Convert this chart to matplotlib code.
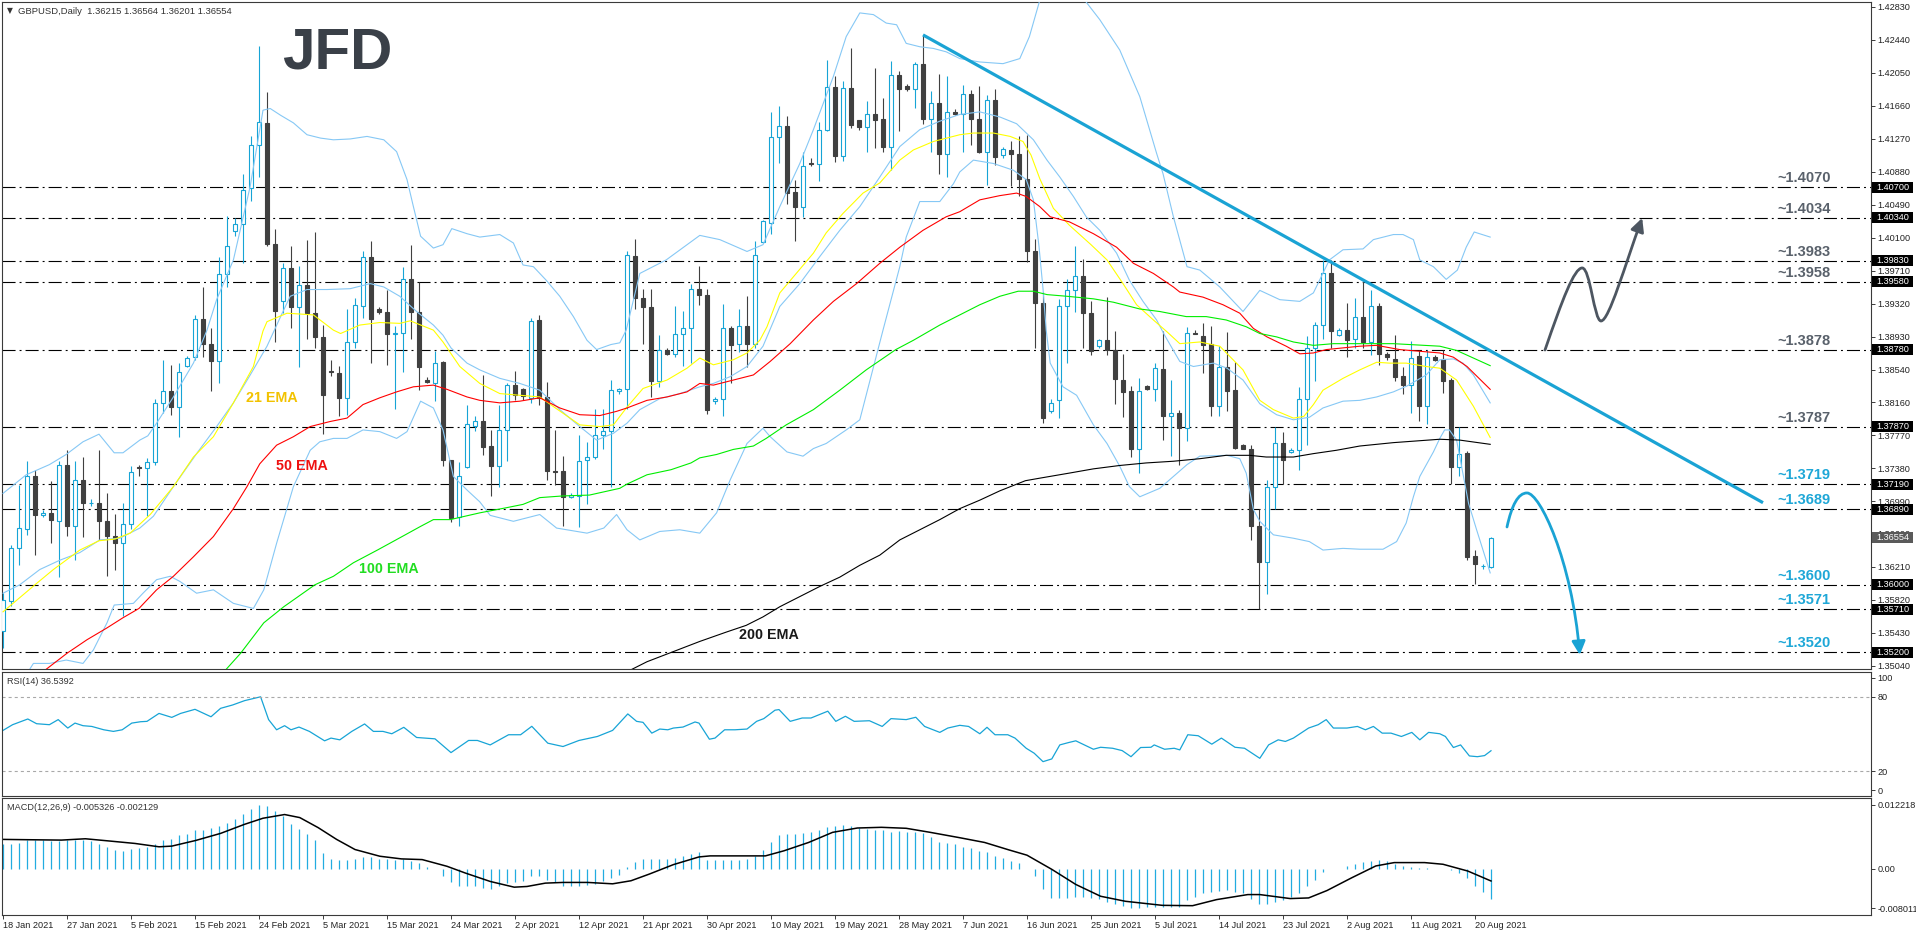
import numpy as np
import matplotlib
matplotlib.use("Agg")
import matplotlib.pyplot as plt
from matplotlib.patches import Rectangle, FancyArrowPatch
from matplotlib.path import Path
import matplotlib.transforms as mtransforms

plt.rcParams['lines.scale_dashes'] = False
plt.rcParams['font.family'] = ['Liberation Sans', 'DejaVu Sans']

# ---------------- data (GBPUSD daily, bar 0 = 18 Jan 2021, incl. Sunday bars) ----------------
opens = [1.3545, 1.3581, 1.3643, 1.3666, 1.3729, 1.3682, 1.3685, 1.3675, 1.3742, 1.3670,
         1.3724, 1.3697, 1.3697, 1.3675, 1.3658, 1.3649, 1.3672, 1.3739, 1.3738, 1.3745,
         1.3815, 1.3829, 1.3810, 1.3859, 1.3869, 1.3914, 1.3885, 1.3865, 1.3967, 1.4018,
         1.4027, 1.4069, 1.4120, 1.4146, 1.4003, 1.3935, 1.3974, 1.3928, 1.3954, 1.3921,
         1.3893, 1.3853, 1.3850, 1.3821, 1.3887, 1.3930, 1.3987, 1.3926, 1.3922, 1.3896,
         1.3898, 1.3962, 1.3923, 1.3842, 1.3838, 1.3863, 1.3748, 1.3680, 1.3739, 1.3788,
         1.3794, 1.3764, 1.3740, 1.3783, 1.3836, 1.3831, 1.3821, 1.3913, 1.3822, 1.3735,
         1.3734, 1.3704, 1.3705, 1.3747, 1.3751, 1.3777, 1.3782, 1.3829, 1.3831, 1.3989,
         1.3939, 1.3928, 1.3841, 1.3877, 1.3873, 1.3896, 1.3903, 1.3950, 1.3943, 1.3817,
         1.3819, 1.3903, 1.3885, 1.3906, 1.3885, 1.4005, 1.4028, 1.4129, 1.4142, 1.4064,
         1.4046, 1.4099, 1.4097, 1.4138, 1.4188, 1.4107, 1.4187, 1.4149, 1.4141, 1.4157,
         1.4150, 1.4117, 1.4203, 1.4190, 1.4186, 1.4216, 1.4150, 1.4170, 1.4109, 1.4159,
         1.4157, 1.4180, 1.4150, 1.4111, 1.4173, 1.4108, 1.4114, 1.4109, 1.4080, 1.3994,
         1.3933, 1.3805, 1.3818, 1.3930, 1.3949, 1.3965, 1.3921, 1.3882, 1.3889, 1.3878,
         1.3842, 1.3829, 1.3760, 1.3835, 1.3831, 1.3855, 1.3800, 1.3803, 1.3785, 1.3898,
         1.3894, 1.3885, 1.3811, 1.3858, 1.3830, 1.3765, 1.3761, 1.3669, 1.3627, 1.3715,
         1.3768, 1.3757, 1.3759, 1.3819, 1.3880, 1.3907, 1.3968, 1.3895, 1.3901, 1.3890,
         1.3916, 1.3887, 1.3930, 1.3873, 1.3867, 1.3847, 1.3836, 1.3870, 1.3811, 1.3869,
         1.3867, 1.3842, 1.3739, 1.3756, 1.3634, 1.3622, 1.36215]
highs = [1.3590, 1.3647, 1.3718, 1.3746, 1.3736, 1.3688, 1.3723, 1.3746, 1.3759, 1.3746,
         1.3751, 1.3701, 1.3759, 1.3709, 1.3684, 1.3697, 1.3740, 1.3741, 1.3750, 1.3820,
         1.3866, 1.3860, 1.3862, 1.3870, 1.3919, 1.3952, 1.3903, 1.3987, 1.4036, 1.4033,
         1.4086, 1.4131, 1.4237, 1.4183, 1.4021, 1.3980, 1.4000, 1.3977, 1.4007, 1.4017,
         1.3907, 1.3866, 1.3859, 1.3926, 1.3939, 1.3995, 1.4006, 1.3928, 1.3949, 1.3906,
         1.3976, 1.4002, 1.3958, 1.3846, 1.3876, 1.3865, 1.3748, 1.3745, 1.3813, 1.3799,
         1.3848, 1.3783, 1.3813, 1.3838, 1.3853, 1.3832, 1.3915, 1.3919, 1.3840, 1.3783,
         1.3752, 1.3708, 1.3777, 1.3769, 1.3808, 1.3808, 1.3842, 1.3832, 1.3994, 1.4009,
         1.3950, 1.3950, 1.3895, 1.3880, 1.3929, 1.3924, 1.3956, 1.3977, 1.3950, 1.3822,
         1.3932, 1.3906, 1.3926, 1.3941, 1.4006, 1.4031, 1.4159, 1.4166, 1.4154, 1.4078,
         1.4111, 1.4104, 1.4147, 1.4220, 1.4201, 1.4196, 1.4234, 1.4149, 1.4172, 1.4211,
         1.4176, 1.4219, 1.4207, 1.4192, 1.4218, 1.4250, 1.4184, 1.4204, 1.4201, 1.4162,
         1.4191, 1.4185, 1.4190, 1.4179, 1.4186, 1.4118, 1.4125, 1.4130, 1.4132, 1.4009,
         1.3946, 1.3820, 1.3938, 1.3962, 1.4001, 1.3985, 1.3935, 1.3890, 1.3940, 1.3900,
         1.3873, 1.3835, 1.3844, 1.3836, 1.3862, 1.3900, 1.3842, 1.3806, 1.3905, 1.3901,
         1.3909, 1.3906, 1.3882, 1.3899, 1.3863, 1.3766, 1.3765, 1.3689, 1.3724, 1.3787,
         1.3780, 1.3762, 1.3834, 1.3894, 1.3911, 1.3984, 1.3984, 1.3903, 1.3933, 1.3939,
         1.3959, 1.3949, 1.3933, 1.3875, 1.3895, 1.3858, 1.3888, 1.3878, 1.3878, 1.3872,
         1.3878, 1.3844, 1.3786, 1.3758, 1.3641, 1.3625, 1.36564]
lows = [1.3525, 1.3575, 1.3623, 1.3659, 1.3635, 1.3680, 1.3649, 1.3609, 1.3658, 1.3629,
        1.3656, 1.3693, 1.3653, 1.3610, 1.3618, 1.3563, 1.3666, 1.3728, 1.3681, 1.3742,
        1.3803, 1.3801, 1.3775, 1.3857, 1.3866, 1.3869, 1.3829, 1.3839, 1.3952, 1.4012,
        1.3980, 1.4054, 1.4082, 1.4000, 1.3887, 1.3921, 1.3903, 1.3858, 1.3890, 1.3880,
        1.3778, 1.3847, 1.3800, 1.3801, 1.3880, 1.3915, 1.3862, 1.3920, 1.3860, 1.3808,
        1.3851, 1.3890, 1.3830, 1.3838, 1.3817, 1.3740, 1.3674, 1.3670, 1.3738, 1.3782,
        1.3753, 1.3705, 1.3716, 1.3746, 1.3818, 1.3818, 1.3815, 1.3812, 1.3724, 1.3718,
        1.3669, 1.3702, 1.3668, 1.3696, 1.3749, 1.3761, 1.3716, 1.3825, 1.3808, 1.3926,
        1.3885, 1.3822, 1.3834, 1.3872, 1.3869, 1.3859, 1.3862, 1.3931, 1.3802, 1.3814,
        1.3800, 1.3838, 1.3875, 1.3858, 1.3880, 1.4004, 1.4015, 1.4098, 1.4050, 1.4006,
        1.4035, 1.4095, 1.4077, 1.4136, 1.4100, 1.4101, 1.4140, 1.4137, 1.4111, 1.4116,
        1.4112, 1.4090, 1.4136, 1.4184, 1.4164, 1.4145, 1.4112, 1.4086, 1.4082, 1.4155,
        1.4112, 1.4120, 1.4110, 1.4072, 1.4096, 1.4105, 1.4071, 1.4060, 1.3982, 1.3880,
        1.3791, 1.3803, 1.3797, 1.3862, 1.3923, 1.3880, 1.3872, 1.3880, 1.3872, 1.3814,
        1.3798, 1.3751, 1.3732, 1.3830, 1.3817, 1.3771, 1.3752, 1.3741, 1.3770, 1.3896,
        1.3850, 1.3800, 1.3800, 1.3805, 1.3760, 1.3760, 1.3653, 1.3571, 1.3589, 1.3689,
        1.3719, 1.3756, 1.3736, 1.3765, 1.3841, 1.3890, 1.3880, 1.3894, 1.3869, 1.3880,
        1.3880, 1.3872, 1.3860, 1.3866, 1.3841, 1.3826, 1.3803, 1.3794, 1.3790, 1.3865,
        1.3827, 1.3719, 1.3729, 1.3629, 1.3601, 1.3619, 1.36201]
closes = [1.3582, 1.3643, 1.3667, 1.3729, 1.3683, 1.3685, 1.3676, 1.3742, 1.3670, 1.3724,
          1.3697, 1.3697, 1.3675, 1.3658, 1.3649, 1.3672, 1.3733, 1.3738, 1.3745, 1.3815,
          1.3829, 1.3810, 1.3852, 1.3868, 1.3914, 1.3885, 1.3865, 1.3967, 1.4001, 1.4027,
          1.4067, 1.4120, 1.4147, 1.4003, 1.3924, 1.3974, 1.3928, 1.3954, 1.3921, 1.3893,
          1.3824, 1.3851, 1.3821, 1.3887, 1.3931, 1.3987, 1.3914, 1.3922, 1.3896, 1.3898,
          1.3962, 1.3923, 1.3858, 1.3840, 1.3862, 1.3747, 1.3679, 1.3728, 1.3790, 1.3794,
          1.3763, 1.3740, 1.3783, 1.3836, 1.3824, 1.3823, 1.3912, 1.3821, 1.3734, 1.3733,
          1.3704, 1.3706, 1.3746, 1.3751, 1.3777, 1.3782, 1.3830, 1.3831, 1.3990, 1.3939,
          1.3928, 1.3841, 1.3878, 1.3873, 1.3896, 1.3903, 1.3950, 1.3942, 1.3806, 1.3819,
          1.3903, 1.3883, 1.3906, 1.3885, 1.3990, 1.4030, 1.4129, 1.4142, 1.4063, 1.4046,
          1.4095, 1.4097, 1.4138, 1.4188, 1.4107, 1.4187, 1.4144, 1.4141, 1.4156, 1.4149,
          1.4117, 1.4203, 1.4186, 1.4186, 1.4216, 1.4150, 1.4170, 1.4109, 1.4159, 1.4157,
          1.4180, 1.4150, 1.4111, 1.4173, 1.4106, 1.4115, 1.4109, 1.4080, 1.3994, 1.3933,
          1.3797, 1.3815, 1.3930, 1.3949, 1.3965, 1.3921, 1.3876, 1.3889, 1.3878, 1.3843,
          1.3828, 1.3760, 1.3829, 1.3831, 1.3856, 1.3800, 1.3803, 1.3785, 1.3898, 1.3897,
          1.3884, 1.3811, 1.3858, 1.3829, 1.3762, 1.3761, 1.3669, 1.3627, 1.3715, 1.3768,
          1.3747, 1.3759, 1.3819, 1.3880, 1.3907, 1.3968, 1.3900, 1.3901, 1.3889, 1.3916,
          1.3887, 1.3930, 1.3873, 1.3869, 1.3846, 1.3836, 1.3868, 1.3811, 1.3869, 1.3866,
          1.3841, 1.3739, 1.3755, 1.3633, 1.3624, 1.3622, 1.36554]

date_bars = list(range(0, 185, 8))
date_labels = ['18 Jan 2021', '27 Jan 2021', '5 Feb 2021', '15 Feb 2021', '24 Feb 2021',
               '5 Mar 2021', '15 Mar 2021', '24 Mar 2021', '2 Apr 2021', '12 Apr 2021',
               '21 Apr 2021', '30 Apr 2021', '10 May 2021', '19 May 2021', '28 May 2021',
               '7 Jun 2021', '16 Jun 2021', '25 Jun 2021', '5 Jul 2021', '14 Jul 2021',
               '23 Jul 2021', '2 Aug 2021', '11 Aug 2021', '20 Aug 2021']

price_ticks = [1.42830, 1.42440, 1.42050, 1.41660, 1.41270, 1.40880, 1.40490, 1.40100,
               1.39710, 1.39320, 1.38930, 1.38540, 1.38160, 1.37770, 1.37380, 1.36990,
               1.36600, 1.36210, 1.35820, 1.35430, 1.35040]

levels = [1.4070, 1.4034, 1.3983, 1.3958, 1.3878, 1.3787, 1.3719, 1.3689, 1.3600, 1.3571, 1.3520]
level_is_support = [False, False, False, False, False, False, True, True, True, True, True]
last_price = 1.36554

# indicator lines: (bar, value)
ema21 = [(0, 1.3568), (4, 1.3600), (6.3, 1.3618), (9.6, 1.3641), (12, 1.3652), (14, 1.3654),
         (15.9, 1.3661), (18.4, 1.3683), (21.3, 1.3716), (23.8, 1.3751), (26.3, 1.3775),
         (28.8, 1.3815), (31.3, 1.3858), (32.5, 1.3900), (33, 1.3911), (35.5, 1.3921),
         (38.8, 1.3919), (41.3, 1.3901), (42.2, 1.3897), (44.6, 1.3907), (47.1, 1.3910),
         (49.6, 1.3909), (50.9, 1.3912), (53.8, 1.3901), (55, 1.3887), (57.1, 1.3858),
         (59.6, 1.3838), (62.1, 1.3826), (64.6, 1.3824), (67.1, 1.3822), (69.2, 1.3808),
         (72.1, 1.3789), (74.6, 1.3787), (76.3, 1.3789), (78, 1.3810), (80, 1.3832),
         (83, 1.3842), (85.5, 1.3856), (87.1, 1.3868), (88.8, 1.3860), (91.3, 1.3866),
         (93, 1.3874), (94.6, 1.3889), (95.5, 1.3905), (97.1, 1.3945), (101.3, 1.3992),
         (102.9, 1.4016), (105, 1.4039), (107.5, 1.4063), (109.6, 1.4075), (112.1, 1.4102),
         (113.8, 1.4114), (116.3, 1.4124), (119.6, 1.4132), (121.3, 1.4134), (123.8, 1.4134),
         (125.9, 1.4130), (127.5, 1.4124), (128.5, 1.4108), (129.6, 1.4080), (131.3, 1.4045),
         (133.3, 1.4025), (136, 1.4002), (138, 1.3984), (140, 1.3956), (141.7, 1.3931),
         (143.8, 1.3913), (145.5, 1.3899), (147.1, 1.3885), (149.6, 1.3887), (152.1, 1.3882),
         (155, 1.3854), (157.1, 1.3818), (158.8, 1.3807), (161.3, 1.3797), (162.6, 1.3799),
         (163.8, 1.3813), (165, 1.3830), (167.5, 1.3844), (169.6, 1.3854), (171.7, 1.3863),
         (173.3, 1.3862), (175.4, 1.3862), (177.9, 1.3858), (179.6, 1.3856), (181.7, 1.3842),
         (183.8, 1.3811), (185.9, 1.3774)]
ema50 = [(5.25, 1.3499), (8, 1.3519), (10.5, 1.3535), (13, 1.3549), (15, 1.3561), (17, 1.3572),
         (19.2, 1.3594), (21.3, 1.3610), (23.8, 1.3633), (26.3, 1.3657), (28.8, 1.3690),
         (30.5, 1.3716), (32.1, 1.3743), (34.2, 1.3765), (36.3, 1.3775), (38.4, 1.3787),
         (40.9, 1.3793), (43, 1.3797), (45, 1.3813), (47.1, 1.3821), (49.2, 1.3828),
         (51.3, 1.3834), (53.8, 1.3836), (55.5, 1.3831), (58, 1.3822), (59.6, 1.3818),
         (62.1, 1.3815), (64.6, 1.3817), (67.1, 1.3821), (69.6, 1.3809), (72.1, 1.3801),
         (74.6, 1.3800), (76.7, 1.3805), (78, 1.3809), (80.5, 1.3818), (83, 1.3822),
         (85.5, 1.3828), (87.1, 1.3838), (88.8, 1.3836), (91.3, 1.3842), (93.8, 1.3848),
         (95.9, 1.3864), (98.4, 1.3885), (101.3, 1.3913), (103.8, 1.3935), (106.7, 1.3956),
         (109.6, 1.3980), (112.1, 1.3999), (115, 1.4019), (117.9, 1.4035), (119.6, 1.4041),
         (122.1, 1.4055), (124.6, 1.4060), (126.7, 1.4063), (127.9, 1.4059), (129.6, 1.4047),
         (130.9, 1.4035), (133.3, 1.4029), (136.3, 1.4015), (139.2, 1.3999), (141.3, 1.3980),
         (143.8, 1.3968), (146.3, 1.3952), (147.1, 1.3946), (150, 1.3940), (152.5, 1.3931),
         (154.6, 1.3921), (156.3, 1.3903), (158, 1.3893), (160.4, 1.3882), (162.1, 1.3873),
         (163.8, 1.3874), (165.4, 1.3878), (167.5, 1.3880), (169.6, 1.3882), (171.7, 1.3883),
         (174.6, 1.3878), (177.1, 1.3876), (179.6, 1.3874), (181.3, 1.3869), (183, 1.3858),
         (185.9, 1.3831)]
ema100 = [(27.8, 1.3499), (29.7, 1.3519), (32.6, 1.3555), (35.1, 1.3574), (39, 1.3600),
          (41.3, 1.3610), (43.8, 1.3626), (46.8, 1.3641), (49.7, 1.3656), (52.2, 1.3669),
          (53.8, 1.3677), (55.9, 1.3677), (59.6, 1.3685), (62.9, 1.3691), (65, 1.3695),
          (67.1, 1.3703), (70, 1.3705), (73.3, 1.3706), (77.1, 1.3714), (78, 1.3719),
          (80.5, 1.3730), (83.5, 1.3736), (86, 1.3744), (87.1, 1.3750), (89.2, 1.3754),
          (91.3, 1.3760), (93.8, 1.3764), (95.4, 1.3773), (97.9, 1.3789), (101.3, 1.3807),
          (104.6, 1.3830), (107.9, 1.3854), (111.6, 1.3878), (113.8, 1.3889), (117.1, 1.3907),
          (119.6, 1.3919), (122.1, 1.3931), (124.6, 1.3941), (126.9, 1.3947), (128.8, 1.3947),
          (130.5, 1.3943), (133, 1.3941), (136.3, 1.3938), (138.8, 1.3934), (142.1, 1.3926),
          (144.6, 1.3923), (147.9, 1.3917), (150.4, 1.3917), (152.9, 1.3913), (155.4, 1.3905),
          (157.1, 1.3897), (159.2, 1.3893), (161.3, 1.3887), (163.8, 1.3883), (166.3, 1.3885),
          (169.6, 1.3885), (173.8, 1.3885), (179.6, 1.3882), (181.7, 1.3877), (183.8, 1.3868),
          (185.9, 1.3859)]
ema200 = [(78.4, 1.3499), (80.5, 1.3509), (83.8, 1.3521), (87.1, 1.3533), (90.4, 1.3544),
          (92.9, 1.3552), (95, 1.3562), (97.1, 1.3574), (99.6, 1.3586), (102.1, 1.3598),
          (104.6, 1.3609), (107.1, 1.3623), (109.6, 1.3635), (112.1, 1.3653), (114.6, 1.3665),
          (117.1, 1.3677), (119.6, 1.3690), (122.1, 1.3700), (124.6, 1.3711), (127.8, 1.3723),
          (129.6, 1.3726), (133.3, 1.3732), (136.3, 1.3737), (139.6, 1.3741), (142.9, 1.3744),
          (146.3, 1.3746), (149.6, 1.3749), (152.9, 1.3753), (155.8, 1.3753), (157.9, 1.3751),
          (161.3, 1.3751), (163.8, 1.3755), (166.7, 1.3759), (169.6, 1.3764), (173.8, 1.3768),
          (179.6, 1.3772), (182.1, 1.3771), (185.9, 1.3766)]
bb_upper = [(0, 1.3708), (2.9, 1.3730), (5.8, 1.3742), (7.9, 1.3754), (10, 1.3769), (12, 1.3778),
            (13.9, 1.3756), (15, 1.3756), (17.1, 1.3771), (18.1, 1.3776), (19.2, 1.3791),
            (21.3, 1.3822), (23.8, 1.3862), (25.5, 1.3901), (26.7, 1.3937), (28.8, 1.3984),
            (30.9, 1.4071), (32.5, 1.4161), (33.4, 1.4163), (34.7, 1.4155), (36.3, 1.4146),
            (38, 1.4132), (39.7, 1.4128), (41.3, 1.4126), (43.4, 1.4127), (45.5, 1.4130),
            (47.6, 1.4126), (49.2, 1.4112), (50.5, 1.4079), (51.3, 1.4047), (52.2, 1.4012),
            (53.8, 1.3998), (55, 1.4002), (56.1, 1.4021), (58, 1.4015), (59.6, 1.4011),
            (62.1, 1.4014), (63.8, 1.4004), (65, 1.3978), (66.3, 1.3976), (67.9, 1.3960),
            (69.6, 1.3941), (71.3, 1.3917), (73, 1.3889), (74.2, 1.3878), (76, 1.3884),
            (77.1, 1.3886), (77.9, 1.3901), (79.6, 1.3968), (82.9, 1.3984), (87.1, 1.4013),
            (89.6, 1.4008), (93, 1.3994), (95, 1.4002), (97.1, 1.4047), (99.6, 1.4098),
            (101.3, 1.4138), (103.8, 1.4201), (105.4, 1.4248), (107.1, 1.4276), (108.8, 1.4274),
            (110.4, 1.4264), (111.7, 1.4262), (112.9, 1.4240), (114.6, 1.4236), (116.3, 1.4234),
            (117.9, 1.4230), (119.6, 1.4222), (122.1, 1.4218), (125, 1.4216), (127.1, 1.4222),
            (128.3, 1.4248), (129.6, 1.4291), (131, 1.4330), (132.5, 1.4345), (134, 1.4320),
            (135.3, 1.4290), (137.1, 1.4268), (139.6, 1.4232), (142.1, 1.4177), (144.2, 1.4110),
            (145, 1.4086), (146.3, 1.4035), (148, 1.3976), (149.6, 1.3972), (152.1, 1.3952),
            (155, 1.3923), (157.1, 1.3948), (159.6, 1.3937), (162.1, 1.3935), (163.8, 1.3945),
            (165.8, 1.3984), (167.5, 1.3996), (170, 1.3997), (171.3, 1.4008), (173.8, 1.4014),
            (175, 1.4014), (176.3, 1.4008), (177.1, 1.3984), (178.8, 1.3976), (180.4, 1.3961),
            (181.8, 1.3972), (182.9, 1.3999), (183.9, 1.4017), (185.9, 1.4011)]
bb_mid = [(0, 1.3590), (2.1, 1.3600), (4.6, 1.3618), (7.1, 1.3629), (9.6, 1.3638), (12.1, 1.3653),
          (14.6, 1.3655), (17.1, 1.3667), (18.8, 1.3681), (21.3, 1.3716), (24.2, 1.3755),
          (26.7, 1.3787), (28.8, 1.3815), (30.9, 1.3848), (33, 1.3882), (34.7, 1.3917),
          (35.9, 1.3941), (38, 1.3949), (40.5, 1.3949), (43.4, 1.3950), (45.9, 1.3956),
          (47.6, 1.3952), (49.6, 1.3941), (51.7, 1.3923), (53.8, 1.3907), (55, 1.3895),
          (56, 1.3880), (58, 1.3862), (59.6, 1.3854), (62.1, 1.3844), (64.6, 1.3838),
          (67.1, 1.3830), (69.6, 1.3807), (72.1, 1.3787), (74.2, 1.3771), (76.3, 1.3779),
          (78, 1.3791), (79.6, 1.3807), (82.1, 1.3820), (84.6, 1.3826), (87.1, 1.3834),
          (88.8, 1.3838), (90.9, 1.3846), (93, 1.3858), (95, 1.3882), (97.1, 1.3929),
          (99.6, 1.3956), (102.1, 1.3988), (104.6, 1.4019), (107.1, 1.4047), (109.6, 1.4082),
          (112.1, 1.4118), (114.6, 1.4138), (117.1, 1.4148), (119.6, 1.4156), (122.1, 1.4159),
          (124.6, 1.4153), (126.7, 1.4145), (128.8, 1.4126), (130.5, 1.4102), (132.1, 1.4082),
          (133.8, 1.4059), (135.4, 1.4035), (137.1, 1.4019), (139.2, 1.3992), (140.8, 1.3960),
          (142.5, 1.3935), (144.2, 1.3913), (145.2, 1.3895), (146.3, 1.3877), (147.1, 1.3864),
          (148.8, 1.3858), (151.3, 1.3862), (153, 1.3856), (155, 1.3842), (157.1, 1.3814),
          (159.2, 1.3801), (161.3, 1.3795), (163.3, 1.3798), (165, 1.3809), (167.5, 1.3817),
          (169.6, 1.3818), (171.7, 1.3822), (173.8, 1.3828), (175.5, 1.3835), (177.9, 1.3848),
          (179.6, 1.3866), (181.3, 1.3867), (182.5, 1.3862), (183.8, 1.3848), (185.9, 1.3815)]
bb_lower = [(3.2, 1.3498), (3.8, 1.3507), (5.8, 1.3507), (7.9, 1.3511), (10, 1.3507), (11.3, 1.3523),
            (13, 1.3555), (13.9, 1.3576), (16.3, 1.3578), (17.5, 1.3590), (19.2, 1.3606),
            (20.9, 1.3610), (22.1, 1.3604), (24.2, 1.3590), (26.3, 1.3594), (28.8, 1.3578),
            (31.3, 1.3572), (32.6, 1.3594), (34.2, 1.3649), (36.3, 1.3716), (38.4, 1.3759),
            (39.6, 1.3769), (41.3, 1.3773), (43, 1.3773), (45, 1.3783), (47.1, 1.3781),
            (49.2, 1.3773), (50.5, 1.3781), (52.2, 1.3817), (53.8, 1.3809), (55, 1.3783),
            (56.3, 1.3728), (58, 1.3712), (59.6, 1.3698), (60.9, 1.3682), (63.8, 1.3675),
            (67.1, 1.3683), (69.2, 1.3667), (73, 1.3661), (75.1, 1.3667), (76.7, 1.3683),
            (78, 1.3665), (79.6, 1.3653), (82.1, 1.3663), (84.6, 1.3665), (87.1, 1.3661),
            (89.2, 1.3685), (90.9, 1.3724), (93, 1.3767), (95, 1.3785), (95.9, 1.3775),
            (98, 1.3757), (100, 1.3752), (101.3, 1.3761), (102.9, 1.3767), (105.4, 1.3783),
            (107.1, 1.3795), (110, 1.3901), (112.1, 1.3976), (112.9, 1.4011), (114.6, 1.4053),
            (117.1, 1.4053), (118.8, 1.4074), (119.6, 1.4088), (121.3, 1.4102), (123.8, 1.4098),
            (126.3, 1.4090), (127.9, 1.4079), (128.8, 1.4055), (129.5, 1.4000), (130.0, 1.3950),
            (130.4, 1.3901), (130.9, 1.3862), (132.5, 1.3834), (134.2, 1.3824), (136.3, 1.3789),
            (138, 1.3767), (139.6, 1.3740), (140.8, 1.3716), (142.1, 1.3704), (144.6, 1.3714),
            (146.3, 1.3728), (148, 1.3742), (149.6, 1.3752), (153, 1.3753), (154.6, 1.3749),
            (155.4, 1.3732), (156.3, 1.3689), (157.1, 1.3675), (158.8, 1.3659), (161.3, 1.3655),
            (163.3, 1.3651), (165, 1.3641), (167.5, 1.3643), (169.6, 1.3642), (172.5, 1.3642),
            (174.2, 1.3651), (175.4, 1.3673), (176.3, 1.3704), (177.1, 1.3728), (178.8, 1.3757),
            (179.6, 1.3773), (180.2, 1.3783), (180.8, 1.3783), (181.7, 1.3771), (183.2, 1.3696),
            (184.2, 1.3665), (185.9, 1.3614)]

rsi_bars = [0.0, 1.2, 3.1, 4.2, 5.8, 6.9, 8.1, 9.0, 10.0, 11.1,
            12.6, 13.8, 14.9, 16.1, 17.2, 18.0, 19.5, 21.1, 22.2, 24.0,
            24.9, 26.0, 27.2, 28.7, 30.2, 32.2, 33.2, 34.2, 35.2, 36.0,
            37.0, 38.3, 40.2, 41.0, 42.1, 43.6, 45.2, 46.3, 47.5, 48.6,
            50.1, 51.7, 54.0, 56.0, 58.2, 59.3, 60.9, 63.2, 64.7, 66.1,
            68.1, 70.0, 72.0, 74.3, 76.2, 78.1, 79.2, 80.0, 81.1, 82.1,
            83.1, 83.8, 85.0, 86.5, 87.0, 88.3, 89.0, 90.2, 91.5, 93.0,
            94.2, 95.1, 96.5, 97.0, 98.4, 99.9, 101.0, 103.1, 104.1, 105.3,
            106.4, 108.3, 109.9, 111.0, 112.9, 114.1, 115.2, 117.1, 118.1, 119.6,
            120.7, 122.1, 123.0, 124.0, 125.6, 126.5, 127.9, 128.9, 130.0, 131.1,
            132.1, 133.2, 134.1, 136.3, 137.2, 138.7, 139.9, 141.0, 142.2, 143.5,
            143.9, 145.2, 146.4, 147.1, 148.1, 149.4, 151.1, 152.3, 154.0, 155.2,
            157.1, 158.2, 159.4, 160.3, 161.3, 163.2, 164.4, 165.4, 166.3, 168.0,
            169.3, 170.3, 171.3, 172.4, 173.5, 174.8, 176.1, 177.1, 178.2, 179.6,
            180.3, 181.3, 182.2, 183.3, 184.3, 185.2, 186.0]
rsi_vals = [52.9, 57.5, 62.1, 58.3, 57.5, 61.6, 54.8, 58.8, 56.7, 56.1,
            53.4, 52.1, 53.4, 58.8, 59.9, 60.2, 66.6, 63.4, 66.6, 69.9,
            67.2, 63.9, 70.7, 73.4, 76.9, 80.0, 61.6, 53.4, 56.7, 53.4,
            55.6, 52.1, 44.5, 46.7, 45.3, 52.1, 58.1, 52.1, 52.1, 50.2,
            55.4, 47.2, 46.1, 35.0, 44.8, 44.8, 41.2, 49.4, 49.4, 56.2,
            42.6, 39.9, 44.8, 48.0, 52.9, 66.2, 60.2, 59.4, 50.7, 54.0,
            53.4, 54.8, 55.6, 59.7, 58.8, 45.8, 46.7, 53.4, 53.4, 54.0,
            60.2, 62.4, 69.2, 69.7, 60.2, 62.9, 62.9, 68.4, 60.2, 64.3,
            60.2, 60.7, 56.1, 62.4, 61.6, 63.5, 56.1, 51.3, 54.8, 57.0,
            56.1, 50.2, 55.4, 49.4, 49.4, 46.7, 38.5, 34.5, 27.7, 29.9,
            41.2, 43.1, 44.5, 37.7, 39.3, 38.5, 36.6, 31.7, 39.1, 39.3,
            41.2, 37.7, 38.5, 37.2, 49.4, 48.6, 41.8, 46.7, 39.3, 38.5,
            30.4, 41.2, 45.3, 44.0, 46.7, 54.8, 57.5, 61.6, 54.8, 54.8,
            56.1, 53.4, 56.1, 50.7, 50.7, 48.0, 51.3, 45.3, 51.3, 50.2,
            48.0, 39.1, 41.2, 32.3, 31.7, 32.6, 36.5]

# MACD main (histogram) per bar, in units of 1e-4
macd_hist = [41.9, 43.0, 43.6, 48.8, 48.8, 48.8, 47.7, 47.7, 49.4, 49.4,
             48.8, 47.7, 41.9, 37.8, 33.1, 30.2, 34.3, 36.0, 37.8, 41.9,
             48.8, 50.6, 57.6, 59.3, 66.9, 66.9, 70.9, 73.8, 79.6, 85.5,
             94.2, 102.9, 110.5, 108.7, 100.0, 91.3, 76.7, 68.0, 59.3, 48.8,
             27.3, 17.4, 15.7, 15.7, 16.9, 20.3, 20.3, 16.9, 16.9, 14.5,
             16.9, 12.8, 9.9, 2.9, -0.6, -13.4, -23.8, -30.8, -30.8, -30.8,
             -33.7, -35.5, -30.8, -25.0, -23.8, -22.1, -13.4, -12.2, -19.2, -23.8,
             -29.6, -30.8, -30.8, -27.9, -26.2, -22.1, -16.3, -10.5, 2.9, 11.0,
             16.9, 16.9, 17.4, 17.4, 18.6, 21.5, 26.2, 28.5, 15.7, 14.5,
             15.7, 15.7, 15.7, 16.9, 22.7, 32.0, 45.9, 58.1, 59.3, 60.5,
             62.2, 63.4, 66.9, 72.7, 73.8, 75.6, 73.8, 70.9, 69.2, 66.9,
             66.3, 63.9, 65.1, 63.4, 63.9, 61.0, 55.2, 45.9, 44.8, 43.0,
             37.8, 34.9, 30.2, 29.1, 22.7, 18.6, 14.0, 9.9, -0.6, -13.4,
             -35.5, -51.2, -51.2, -51.2, -49.4, -49.4, -51.2, -52.9, -57.0, -61.0,
             -64.5, -68.6, -68.6, -65.7, -65.7, -65.7, -66.9, -65.7, -54.1, -49.4,
             -42.4, -39.5, -37.8, -36.6, -39.5, -42.4, -52.9, -61.6, -61.6, -57.0,
             -54.1, -49.4, -42.4, -30.8, -19.2, -6.4, -0.6, -0.6, 5.2, 8.7,
             11.0, 12.8, 15.7, 12.8, 8.7, 5.2, 3.5, 1.7, 1.2, -0.6,
             -0.6, -2.9, -7.6, -16.3, -29.6, -39.5, -53.3]
signal_bars = [0.0, 3.5, 7.3, 10.3, 13.4, 16.5, 19.5, 21.1, 24.1, 27.2,
               30.2, 32.5, 35.2, 37.1, 39.4, 41.7, 44.0, 47.1, 49.8, 52.4,
               55.5, 57.8, 60.9, 63.9, 65.5, 67.8, 70.0, 73.1, 76.2, 78.5,
               80.8, 83.8, 87.0, 88.4, 95.3, 97.6, 100.7, 103.7, 106.8, 109.8,
               112.9, 115.9, 119.6, 122.7, 125.7, 128.0, 131.1, 134.1, 137.2, 140.3,
               144.9, 148.7, 151.7, 155.6, 157.1, 160.9, 163.2, 165.5, 168.6, 171.6,
               173.9, 177.7, 180.0, 183.1, 186.0]
signal_vals = [50.6, 50.0, 49.4, 51.7, 47.7, 43.6, 37.8, 39.0, 48.8, 61.0,
               76.7, 87.2, 93.6, 88.3, 70.9, 50.6, 33.1, 21.5, 16.9, 15.7,
               4.1, -7.6, -22.1, -32.0, -30.8, -25.0, -23.8, -23.8, -26.2, -20.9,
               -9.3, 7.0, 20.3, 22.1, 22.1, 30.8, 45.3, 62.8, 70.3, 71.5,
               69.8, 62.8, 53.5, 45.3, 32.6, 23.3, -1.2, -27.3, -47.7, -56.4,
               -63.4, -64.0, -53.5, -44.8, -44.8, -51.7, -50.6, -37.8, -15.7, 4.7,
               10.5, 10.5, 7.6, -4.1, -21.3]

# annotation geometry (bar, price)
trend_start = (115, 1.4250)
trend_end = (220, 1.3697)
up_arrow_pts = [(192.75, 1.38775), (194.9, 1.39366), (196.4, 1.39745), (197.4, 1.39745),
                (198.4, 1.39745), (198.9, 1.39118), (199.75, 1.39118),
                (200.75, 1.39118), (202.75, 1.39780), (204.9, 1.40336)]
down_arrow_pts = [(188.0, 1.36683), (188.6, 1.36943), (189.4, 1.37085), (190.5, 1.37085),
                  (192.1, 1.37085), (196.1, 1.36293), (197.1, 1.35170)]

# ---------------- styling ----------------
CYAN = '#17a4d6'
DARK = '#404040'
BBC = '#86c8f5'
W, H = 1916, 936
fig = plt.figure(figsize=(W / 100, H / 100), dpi=100)
fig.patch.set_facecolor('white')


def px_axes(x0, y0, x1, y1):
    return fig.add_axes([x0 / W, 1 - y1 / H, (x1 - x0) / W, (y1 - y0) / H])


ax = px_axes(2, 2, 1871, 669)
ax_rsi = px_axes(2, 672, 1871, 796)
ax_macd = px_axes(2, 798, 1871, 915)

XMIN, XMAX = -0.125, 233.5
YMIN, YMAX = 1.35004, 1.42889
PPX = (YMAX - YMIN) / 667.0
AXW = 1869.0

for a in (ax, ax_rsi, ax_macd):
    a.set_xlim(XMIN, XMAX)
    a.set_facecolor('white')
    for s in a.spines.values():
        s.set_color('#3a3a3a')
        s.set_linewidth(0.8)
    a.yaxis.tick_right()
    a.tick_params(axis='x', bottom=False, labelbottom=False)
    a.tick_params(axis='y', length=3, width=0.7, color='#3a3a3a', pad=1.5,
                  labelsize=6.6, labelcolor='#222222')

# ---------------- main panel ----------------
ax.set_ylim(YMIN, YMAX)
ax.set_yticks(price_ticks)
ax.set_yticklabels([f'{v:.5f}' for v in price_ticks])

for v in levels:
    ax.axhline(v, color='black', lw=0.8, ls=(0, (9.4, 2.9, 1.4, 2.9)), zorder=1)

o = np.array(opens); h = np.array(highs); l = np.array(lows); c = np.array(closes)
xb = np.arange(len(o))
bull = c >= o
ax.vlines(xb[bull], l[bull], h[bull], color=CYAN, lw=0.8, zorder=3)
ax.vlines(xb[~bull], l[~bull], h[~bull], color=DARK, lw=0.8, zorder=3)
blo = np.minimum(o, c)
bh = np.maximum(np.abs(c - o), 0.00002)
ax.bar(xb[bull], bh[bull], bottom=blo[bull], width=0.55, facecolor='white',
       edgecolor=CYAN, linewidth=0.8, zorder=4)
ax.bar(xb[~bull], bh[~bull], bottom=blo[~bull], width=0.55, facecolor=DARK,
       edgecolor=DARK, linewidth=0.8, zorder=4)

for pts, col, lw in ((bb_upper, BBC, 0.8), (bb_mid, BBC, 0.8), (bb_lower, BBC, 0.8),
                     (ema21, '#ffff00', 0.8), (ema50, '#ff0000', 0.8),
                     (ema100, '#00ee00', 0.8), (ema200, '#000000', 0.8)):
    arr = np.array(pts)
    ax.plot(arr[:, 0], arr[:, 1], color=col, lw=lw, zorder=5)

# trend line
ax.plot([trend_start[0], trend_end[0]], [trend_start[1], trend_end[1]],
        color='#1aa3d4', lw=2.3, zorder=6, solid_capstyle='butt')

# scenario arrows
codes_up = [Path.MOVETO] + [Path.CURVE4] * 9
up = FancyArrowPatch(path=Path(up_arrow_pts, codes_up), arrowstyle='-|>,head_length=0.5,head_width=0.25',
                     mutation_scale=16, color='#4d5661', lw=2.0, zorder=6)
ax.add_patch(up)
codes_dn = [Path.MOVETO] + [Path.CURVE4] * 6
dn = FancyArrowPatch(path=Path(down_arrow_pts, codes_dn), arrowstyle='-|>,head_length=0.5,head_width=0.25',
                     mutation_scale=16, color='#1aa3d4', lw=2.0, zorder=6)
ax.add_patch(dn)

# level labels
lbl_tr = mtransforms.offset_copy(ax.transData, fig=fig, x=0, y=9, units='dots')
for v, sup in zip(levels, level_is_support):
    ax.text(221.75, v, f'~{v:.4f}', transform=lbl_tr, ha='left', va='center',
            fontsize=10.5, fontweight='bold', color=('#1ea7d7' if sup else '#59616b'), zorder=7)

# price boxes on the axis
bt = mtransforms.blended_transform_factory(ax.transAxes, ax.transData)
bx0 = (1872 - 2) / AXW
bw = 41 / AXW
bhgt = 11 * PPX
for v in levels:
    ax.add_patch(Rectangle((bx0, v - bhgt / 2), bw, bhgt, transform=bt, facecolor='black',
                           edgecolor='none', clip_on=False, zorder=20))
    ax.text(bx0 + 4 / AXW, v, f'{v:.5f}', transform=bt, color='white', fontsize=6.6,
            va='center', ha='left', clip_on=False, zorder=21)
ax.add_patch(Rectangle((bx0, last_price - bhgt / 2), bw, bhgt, transform=bt, facecolor='#5a5a5a',
                       edgecolor='none', clip_on=False, zorder=20))
ax.text(bx0 + 4 / AXW, last_price, f'{last_price:.5f}', transform=bt, color='white', fontsize=6.6,
        va='center', ha='left', clip_on=False, zorder=21)

# EMA labels and logo
ax.text(33.6, 1.38208, '21 EMA', color='#f2c200', fontsize=10.3, fontweight='bold', ha='center', va='center', zorder=7)
ax.text(37.4, 1.37404, '50 EMA', color='#ee1111', fontsize=10.3, fontweight='bold', ha='center', va='center', zorder=7)
ax.text(48.25, 1.36187, '100 EMA', color='#22dd22', fontsize=10.3, fontweight='bold', ha='center', va='center', zorder=7)
ax.text(95.75, 1.35406, '200 EMA', color='#1a1a1a', fontsize=10.3, fontweight='bold', ha='center', va='center', zorder=7)
ax.text(41.75, 1.42286, 'JFD', color='#3a4048', fontsize=42, fontweight='bold', ha='center', va='center', zorder=7)

# header
fig.text(7 / W, 1 - 11 / H, '▼', fontsize=5.5, color='#333333', va='center', ha='left',
         family=['DejaVu Sans'])
fig.text(18 / W, 1 - 11 / H, 'GBPUSD,Daily  1.36215 1.36564 1.36201 1.36554', fontsize=6.8,
         color='#333333', va='center', ha='left')

# ---------------- RSI ----------------
ax_rsi.set_ylim(0, 100)
ax_rsi.plot(rsi_bars, rsi_vals, color=CYAN, lw=0.9)
for lv in (80, 20):
    ax_rsi.axhline(lv, color='#a8a8a8', lw=0.8, ls=(0, (2.2, 2.2)))
ax_rsi.set_yticks([95.5, 80, 20, 4.7])
ax_rsi.set_yticklabels(['100', '80', '20', '0'])
fig.text(7 / W, 1 - 681 / H, 'RSI(14) 36.5392', fontsize=6.6, color='#333333', va='center', ha='left')

# ---------------- MACD ----------------
ax_macd.set_ylim(-0.008011, 0.012218)
hist = np.array(macd_hist) * 1e-4
ax_macd.vlines(np.arange(len(hist)), 0, hist, color='#22ace0', lw=0.9)
ax_macd.plot(signal_bars, np.array(signal_vals) * 1e-4, color='black', lw=1.1)
ax_macd.set_yticks([0.01104, 0.0, -0.00685])
ax_macd.set_yticklabels(['0.012218', '0.00', '-0.008011'])
fig.text(7 / W, 1 - 808 / H, 'MACD(12,26,9) -0.005326 -0.002129', fontsize=6.6, color='#333333',
         va='center', ha='left')

ax_macd.set_xticks(date_bars)
ax_macd.set_xticklabels(date_labels, ha='left')
ax_macd.tick_params(axis='x', bottom=True, labelbottom=True, length=3, width=0.7,
                    color='#3a3a3a', pad=1.5, labelsize=6.6, labelcolor='#222222')

fig.savefig('out.png', dpi=100, facecolor='white')
